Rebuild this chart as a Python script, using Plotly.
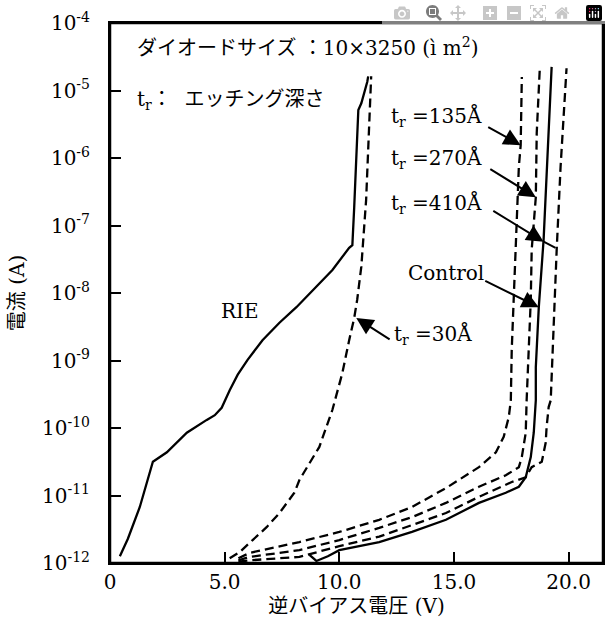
import plotly.graph_objects as go

# ---- data (voltage in V, current as log10(A)) ----
rie_v = [0.43, 0.78, 1.30, 1.61, 1.87, 2.48, 3.35, 4.22, 4.57, 4.87, 5.22, 5.57, 6.00, 6.65, 7.39, 8.13,
         9.00, 9.70, 10.43, 10.57, 10.65, 10.74, 10.83, 10.96, 11.09, 11.22, 11.26]
rie_log = [-11.90, -11.64, -11.17, -10.81, -10.50, -10.36, -10.07, -9.88, -9.81, -9.70, -9.44, -9.21, -8.99,
           -8.70, -8.44, -8.21, -7.91, -7.66, -7.33, -7.29, -6.73, -5.88, -5.29, -5.19, -5.04, -4.87, -4.79]

t30_v = [5.22, 5.65, 6.22, 6.83, 7.39, 8.04, 8.26, 9.13, 9.70, 10.13, 10.43, 10.65, 10.78, 10.96, 11.17, 11.30, 11.39]
t30_log = [-11.93, -11.84, -11.66, -11.47, -11.26, -10.96, -10.77, -10.28, -9.73, -9.19, -8.70, -8.37, -8.10,
           -7.61, -6.62, -5.63, -4.79]

t135_v = [5.60, 6.09, 8.26, 10.00, 11.74, 13.17, 14.65, 16.09, 16.83, 17.17, 17.39, 17.48, 17.52, 17.61,
          17.70, 17.83, 17.91, 17.96]
t135_log = [-11.93, -11.85, -11.69, -11.54, -11.36, -11.17, -10.89, -10.58, -10.36, -10.13, -9.84, -9.59,
            -8.84, -8.10, -7.36, -6.13, -5.81, -4.80]

t270_v = [5.60, 6.09, 8.26, 10.00, 11.74, 13.17, 14.65, 16.09, 17.26, 17.83, 17.96, 18.13, 18.17, 18.26,
          18.35, 18.39, 18.57, 18.61, 18.74]
t270_log = [-11.96, -11.91, -11.81, -11.66, -11.48, -11.32, -11.11, -10.87, -10.70, -10.58, -10.43, -10.07,
            -9.59, -8.84, -8.10, -7.36, -6.58, -5.63, -4.70]

t410_v = [5.60, 6.09, 8.26, 10.00, 11.74, 13.17, 14.65, 16.09, 17.52, 18.13, 18.39, 18.83, 19.00, 19.04,
          19.13, 19.22, 19.30, 19.39, 19.48, 19.65, 19.78, 19.91]
t410_log = [-11.98, -11.96, -11.91, -11.75, -11.61, -11.44, -11.26, -11.02, -10.80, -10.73, -10.58, -10.50,
            -10.22, -9.99, -9.69, -9.59, -8.84, -8.10, -7.36, -6.13, -5.39, -4.67]

ctrl_v = [8.70, 9.00, 9.50, 10.00, 11.74, 13.17, 14.65, 16.09, 17.26, 17.83, 18.13, 18.35, 18.48, 18.57,
          18.57, 18.70, 18.91, 19.09, 19.26]
ctrl_log = [-11.88, -11.97, -11.90, -11.81, -11.69, -11.54, -11.36, -11.11, -10.96, -10.87, -10.73, -10.43,
            -10.07, -9.59, -9.10, -8.21, -7.21, -5.88, -4.65]

x_range = [0, 21.5]
y_range_exp = [-12, -4]
x_tickvals = [0, 5, 10, 15, 20]
x_ticktext = ["0", "5.0", "10.0", "15.0", "20.0"]
y_exponents = [-12, -11, -10, -9, -8, -7, -6, -5, -4]

SERIF = "DejaVu Serif, Liberation Serif, Noto Sans CJK JP, serif"

fig = go.Figure()

def add_curve(v, lg, dash):
    fig.add_trace(go.Scatter(
        x=v, y=[10 ** e for e in lg], mode="lines",
        line=dict(color="black", width=2.3, dash=dash), showlegend=False, hoverinfo="skip"))

add_curve(rie_v, rie_log, "solid")
add_curve(t30_v, t30_log, "9px,5px")
add_curve(t135_v, t135_log, "9px,5px")
add_curve(t270_v, t270_log, "9px,5px")
add_curve(t410_v, t410_log, "9px,5px")
add_curve(ctrl_v, ctrl_log, "solid")

texts = [
    dict(x=1.09, y=-4.35, text="ダイオードサイズ ：10×3250 (ì m<sup>2</sup>)", xanchor="left", size=20),
    dict(x=1.09, y=-5.14, text="t<sub>r</sub>：  エッチング深さ", xanchor="left", size=20),
    dict(x=5.65, y=-8.27, text="RIE", xanchor="center", size=20),
]
for t in texts:
    fig.add_annotation(x=t["x"], y=t["y"], xref="x", yref="y", text=t["text"], showarrow=False,
                       xanchor=t["xanchor"], yanchor="middle", font=dict(family=SERIF, size=t["size"], color="black"))

labels = [
    ("t<sub>r</sub> =135Å", 12.17, -5.38),
    ("t<sub>r</sub> =270Å", 12.17, -6.01),
    ("t<sub>r</sub> =410Å", 12.17, -6.67),
    ("Control", 12.91, -7.70),
    ("t<sub>r</sub> =30Å", 12.30, -8.62),
]
for txt, lx, ly in labels:
    fig.add_annotation(x=lx, y=ly, xref="x", yref="y", text=txt, showarrow=False,
                       xanchor="left", yanchor="middle", font=dict(family=SERIF, size=20, color="black"))

arrows = [
    (16.43, -5.53, 17.91, -5.81),
    (16.52, -6.15, 18.57, -6.58),
    (16.65, -6.77, 18.91, -7.24),
    (16.30, -7.81, 18.70, -8.21),
    (12.26, -8.70, 10.74, -8.37),
]
for tx, ty, hx, hy in arrows:
    fig.add_annotation(x=hx, y=hy, ax=tx, ay=ty, xref="x", yref="y", axref="x", ayref="y",
                       text="", showarrow=True, arrowhead=2, arrowsize=1.7, arrowwidth=2, arrowcolor="black")

# extension of the 410 arrow line to its curve
fig.add_shape(type="line", x0=18.91, y0=10 ** -7.24, x1=19.43, y1=10 ** -7.33, xref="x", yref="y",
              line=dict(color="black", width=2))

# frame around the plotting area
fig.add_shape(type="rect", x0=0, x1=1, y0=0, y1=1, xref="paper", yref="paper",
              line=dict(color="black", width=2.5), fillcolor="rgba(0,0,0,0)", layer="above")

fig.update_xaxes(
    range=x_range, tickvals=x_tickvals, ticktext=x_ticktext, ticks="inside", ticklen=11, tickwidth=2,
    tickcolor="black", showline=True, linecolor="black", linewidth=2, mirror=True, showgrid=False,
    zeroline=False, tickfont=dict(family=SERIF, size=20, color="black"),
    title=dict(text="逆バイアス電圧 (V)", font=dict(family=SERIF, size=20, color="black"), standoff=6))
fig.update_yaxes(
    type="log", range=y_range_exp, tickvals=[10 ** e for e in y_exponents],
    ticktext=["10<sup>%d</sup>" % e for e in y_exponents], ticks="inside", ticklen=11, tickwidth=2,
    tickcolor="black", showline=True, linecolor="black", linewidth=2, mirror=True, showgrid=False,
    zeroline=False, tickfont=dict(family=SERIF, size=20, color="black"), ticklabelstandoff=14,
    title=dict(text="電流 (A)", font=dict(family=SERIF, size=20, color="black"), standoff=12))

fig.update_layout(width=608, height=624, margin=dict(l=110, r=3, t=23, b=61),
                  paper_bgcolor="white", plot_bgcolor="white")

# remove the default 8 px page margin and any scrollbars so the figure fills the window exactly
fig.write_html("out.html",
               post_script="document.body.style.margin='0';document.body.style.overflow='hidden';"
                           "document.documentElement.style.overflow='hidden';")
